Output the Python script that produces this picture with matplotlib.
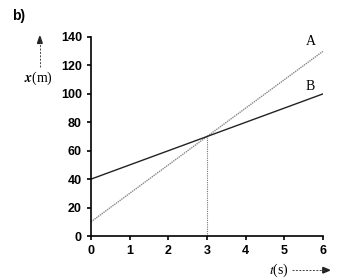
import numpy as np
import matplotlib.pyplot as plt

# data
t = np.array([0, 6])
x_a = np.array([10, 130])
x_b = np.array([40, 100])
t_meet = 3
x_meet = 70
xticks = [0, 1, 2, 3, 4, 5, 6]
yticks = [0, 20, 40, 60, 80, 100, 120, 140]

fig = plt.figure(figsize=(3.38, 2.8), dpi=100)
ax = fig.add_axes([0.269, 0.157, 0.687, 0.711])

ax.plot(t, x_a, c='#888888', lw=1.0, ls=(0, (1, 0.6)))
ax.plot(t, x_b, c='#222222', lw=1.0)
ax.plot([t_meet, t_meet], [0, x_meet], c='#777777', lw=0.8, ls=(0, (1, 1)))

ax.set_xlim(0, 6)
ax.set_ylim(0, 140)
ax.set_xticks(xticks)
ax.set_yticks(yticks)
for s in ['top', 'right']:
    ax.spines[s].set_visible(False)
ax.spines['left'].set_linewidth(1.2)
ax.spines['bottom'].set_linewidth(1.2)
ax.tick_params(direction='out', length=3, width=1.2, labelsize=9)
for lab in ax.get_xticklabels() + ax.get_yticklabels():
    lab.set_fontweight('bold')
    lab.set_family('Liberation Sans')

ax.text(5.55, 134, 'A', family='Liberation Serif', fontsize=10)
ax.text(5.55, 103, 'B', family='Liberation Serif', fontsize=10)

# labels and arrows
plt.rcParams['mathtext.fontset'] = 'stix'
fig.text(0.035, 0.93, 'b)', fontsize=10, fontweight='bold', family='Liberation Sans')
fig.text(0.07, 0.72, r'$\boldsymbol{x}$(m)', fontsize=10, family='Liberation Serif', va='center')
fig.add_artist(plt.Line2D([0.118, 0.118], [0.76, 0.86], color='#444444', lw=0.7, ls=(0, (2, 1.5))))
fig.add_artist(plt.Polygon([[0.111, 0.845], [0.125, 0.845], [0.118, 0.87]], color='#222222'))
fig.text(0.855, 0.035, r'$t$(s)', fontsize=10, family='Liberation Serif', ha='right', va='center')
fig.add_artist(plt.Line2D([0.865, 0.96], [0.035, 0.035], color='#444444', lw=0.7, ls=(0, (2, 1.5))))
fig.add_artist(plt.Polygon([[0.955, 0.025], [0.955, 0.045], [0.975, 0.035]], color='#222222'))

plt.savefig('out.png')
